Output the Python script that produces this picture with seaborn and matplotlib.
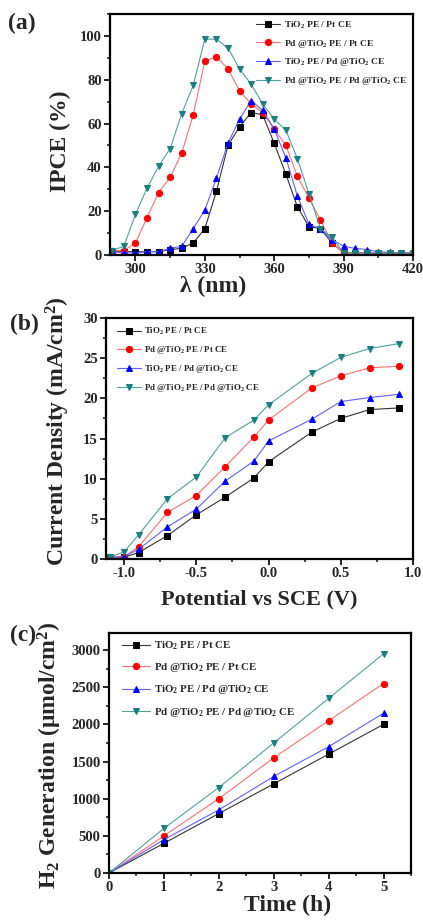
import matplotlib
matplotlib.use("Agg")
import matplotlib.pyplot as plt
from matplotlib.ticker import MultipleLocator
import seaborn as sns
import numpy as np

# ---- data ----
labels = [r"TiO$_2$ PE / Pt CE",
          r"Pd @TiO$_2$ PE / Pt CE",
          r"TiO$_2$ PE / Pd @TiO$_2$ CE",
          r"Pd @TiO$_2$ PE / Pd @TiO$_2$ CE"]
colors = ["black", "#ff0000", "#0000ff", "#1a8080"]
line_colors = ["#333333", "#ff7070", "#6060ff", "#50a0a0"]
markers = ["s", "o", "^", "v"]

# (a) IPCE
wavelength = [290, 295, 300, 305, 310, 315, 320, 325, 330, 335, 340, 345, 350, 355,
              360, 365, 370, 375, 380, 385, 390, 395, 400, 405, 410, 415, 420]
ipce_tio2_pt = [1.5, 1.5, 1.5, 1.5, 1.5, 2.5, 3, 5.5, 12, 29, 50, 58.5, 65, 64,
                51, 37, 22, 13, 12, 5.5, 1, 1, 1, 0.5, 0.5, 0.5, 0.5]
ipce_pd_pt = [2, 2, 5.5, 17, 28.5, 35.5, 46.5, 64, 88.5, 90.5, 85, 75, 69, 65,
              57.5, 50, 36, 26, 16, 5.5, 1, 1, 1, 1, 1, 1, 1]
ipce_tio2_pd = [1.5, 1, 1, 1.5, 1.5, 3, 4, 12, 20.5, 35, 51, 62, 70.5, 66,
                57.5, 44.5, 27, 14, 12, 7, 4, 3, 2.5, 1.5, 1.2, 1, 1]
ipce_pd_pd = [2, 4, 18.5, 30.5, 40.5, 48.5, 64.5, 77.5, 98.5, 98.5, 94.5, 85, 78, 69,
              62, 57, 44, 28, 12, 8, 1, 1, 1, 1, 1, 1, 1]

# (b) current density
potential = [-1.1, -1.0, -0.9, -0.7, -0.5, -0.3, -0.1, 0.0, 0.3, 0.5, 0.7, 0.9]
cd_tio2_pt = [0.2, 0.2, 0.8, 2.9, 5.5, 7.7, 10.1, 12.1, 15.8, 17.5, 18.6, 18.8]
cd_pd_pt = [0.2, 0.3, 1.5, 5.8, 7.9, 11.5, 15.2, 17.3, 21.3, 22.8, 23.8, 24.0]
cd_tio2_pd = [0.2, 0.3, 1.2, 4.0, 6.2, 9.7, 12.2, 14.7, 17.4, 19.6, 20.1, 20.5]
cd_pd_pd = [0.2, 0.9, 3.0, 7.5, 10.2, 15.1, 17.3, 19.2, 23.1, 25.1, 26.2, 26.8]

# (c) H2 generation
time_h = [0, 1, 2, 3, 4, 5]
h2_tio2_pt = [0, 400, 800, 1200, 1600, 2000]
h2_pd_pt = [0, 500, 1000, 1550, 2050, 2550]
h2_tio2_pd = [0, 450, 850, 1300, 1700, 2150]
h2_pd_pd = [0, 600, 1150, 1750, 2350, 2950]

# ---- style ----
sns.set_style("ticks")
plt.rcParams["font.family"] = ["Liberation Serif", "DejaVu Serif"]
plt.rcParams["font.weight"] = "bold"
plt.rcParams["mathtext.fontset"] = "custom"
plt.rcParams["mathtext.rm"] = "Liberation Serif:bold"
plt.rcParams["mathtext.bf"] = "Liberation Serif:bold"
plt.rcParams["mathtext.it"] = "Liberation Serif:bold:italic"
plt.rcParams["mathtext.default"] = "rm"

fig = plt.figure(figsize=(4.23, 9.23), dpi=100)
W, H = 423, 923


def add_axes(left, top, right, bottom):
    return fig.add_axes([left / W, 1 - bottom / H, (right - left) / W, (bottom - top) / H])


def draw(ax, x, series, ms=4.5):
    for ys, lab, c, lc, m in zip(series, labels, colors, line_colors, markers):
        sns.lineplot(x=x, y=ys, ax=ax, color=lc, linewidth=0.8, marker=m,
                     markersize=ms, markerfacecolor=c, markeredgecolor=c,
                     label=lab, sort=False)


def style(ax, xmaj, xmin, ymaj, ymin):
    for s in ax.spines.values():
        s.set_linewidth(1.6)
        s.set_color("black")
    ax.xaxis.set_major_locator(MultipleLocator(xmaj))
    ax.xaxis.set_minor_locator(MultipleLocator(xmin))
    ax.yaxis.set_major_locator(MultipleLocator(ymaj))
    ax.yaxis.set_minor_locator(MultipleLocator(ymin))
    ax.tick_params(which="major", direction="out", length=4, width=1.4,
                   labelsize=10.5, top=False, right=False, pad=2)
    ax.tick_params(which="minor", direction="out", length=2.5, width=1.2,
                   top=False, right=False)
    for t in ax.get_xticklabels() + ax.get_yticklabels():
        t.set_fontweight("bold")


def legend(ax, loc, anchor, fs, spacing):
    leg = ax.legend(loc=loc, bbox_to_anchor=anchor, frameon=False, fontsize=fs,
                    handlelength=2.6, labelspacing=spacing, handletextpad=0.4,
                    borderaxespad=0.2)
    for t in leg.get_texts():
        t.set_fontweight("bold")


# (a)
ax1 = add_axes(110, 14, 413, 255)
draw(ax1, wavelength, [ipce_tio2_pt, ipce_pd_pt, ipce_tio2_pd, ipce_pd_pd])
ax1.set_xlim(289, 420)
ax1.set_ylim(0, 110)
style(ax1, 30, 15, 20, 10)
ax1.set_xlabel("λ (nm)", fontsize=17, fontweight="bold")
ax1.set_ylabel("IPCE (%)", fontsize=17, fontweight="bold")
ax1.xaxis.set_label_coords(0.34, -0.088)
ax1.yaxis.set_label_coords(-0.13, 0.47)
legend(ax1, "upper right", (1.0, 1.0), 6.8, 0.72)

# (b)
ax2 = add_axes(106, 318, 413, 559)
draw(ax2, potential, [cd_tio2_pt, cd_pd_pt, cd_tio2_pd, cd_pd_pd])
ax2.set_xlim(-1.125, 1.0)
ax2.set_ylim(0, 30)
style(ax2, 0.5, 0.25, 5, 2.5)
ax2.xaxis.set_major_formatter(plt.FuncFormatter(lambda v, p: f"{v:.1f}"))
ax2.set_xlabel("Potential vs SCE (V)", fontsize=16, fontweight="bold")
ax2.set_ylabel(r"Current Density (mA/cm$^2$)", fontsize=17, fontweight="bold")
ax2.xaxis.set_label_coords(0.5, -0.125)
ax2.yaxis.set_label_coords(-0.11, 0.53)
legend(ax2, "upper left", (0.02, 0.99), 6.4, 0.8)

# (c)
ax3 = add_axes(109, 633, 411, 873)
draw(ax3, time_h, [h2_tio2_pt, h2_pd_pt, h2_tio2_pd, h2_pd_pd])
ax3.set_xlim(0, 5.5)
ax3.set_ylim(0, 3230)
style(ax3, 1, 0.5, 500, 250)
ax3.set_xlabel("Time (h)", fontsize=17, fontweight="bold")
ax3.set_ylabel(r"H$_2$ Generation ($\mu$mol/cm$^2$)", fontsize=17, fontweight="bold")
ax3.xaxis.set_label_coords(0.59, -0.09)
ax3.yaxis.set_label_coords(-0.15, 0.49)
legend(ax3, "upper left", (0.02, 1.0), 7.8, 0.85)

# panel letters
fig.text(8 / W, 1 - 23 / H, "(a)", fontsize=17, fontweight="bold", va="center")
fig.text(10 / W, 1 - 324 / H, "(b)", fontsize=17, fontweight="bold", va="center")
fig.text(10 / W, 1 - 635 / H, "(c)", fontsize=17, fontweight="bold", va="center")

fig.savefig("out.png", dpi=100)
plt.close(fig)
